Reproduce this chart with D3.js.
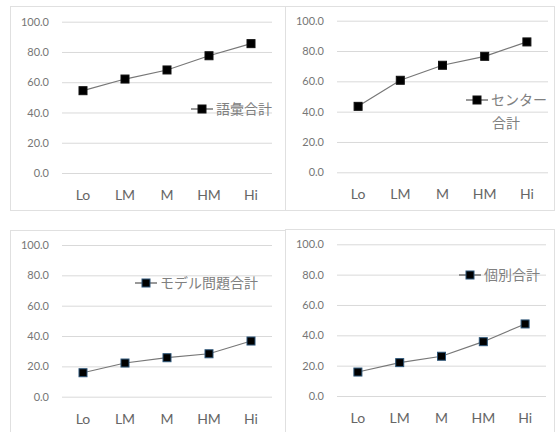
<!DOCTYPE html>
<html>
<head>
<meta charset="utf-8">
<script src="https://cdn.jsdelivr.net/npm/d3@7"></script>
<style>
  html, body { margin: 0; padding: 0; background: #fff; }
  svg { display: block; }
  text { font-family: Lato, "Noto Sans CJK JP", sans-serif; }
</style>
</head>
<body>
<svg id="chart" width="555" height="432"></svg>
<script>
// Score levels on the horizontal axis
const levels = ["Lo", "LM", "M", "HM", "Hi"];
// Y axis ticks
const yTicks = [0, 20, 40, 60, 80, 100];

// Average totals per level
const vocabTotal = [54.4, 62.1, 68.1, 77.5, 85.5];
const centerTotal = [43.5, 60.7, 70.6, 76.5, 86.0];
const modelTotal = [15.8, 22.2, 25.7, 28.3, 36.7];
const individualTotal = [15.8, 22.0, 26.2, 35.8, 47.5];

// Series names (legend labels; an array entry is one line)
const vocabName = ["語彙合計"];
const centerName = ["センター", "合計"];
const modelName = ["モデル問題合計"];
const individualName = ["個別合計"];

const svg = d3.select("#chart");

// Panel frames: outer border, plot area, legend anchor
const panels = [
  { values: vocabTotal, name: vocabName, frame: [10, 6, 285, 210],
    plot: [62, 21.7, 272, 173], legend: [202, 109], stroke: "#111" },
  { values: centerTotal, name: centerName, frame: [285, 6, 554, 210],
    plot: [337, 20.7, 548, 172.3], legend: [477, 100], stroke: "#111" },
  { values: modelTotal, name: modelName, frame: [10, 230, 285, 433],
    plot: [62, 245, 272, 396.7], legend: [146, 283], stroke: "#2c5578" },
  { values: individualTotal, name: individualName, frame: [285, 229, 554, 433],
    plot: [337, 244.3, 546, 396], legend: [470, 275], stroke: "#2c5578" }
];

panels.forEach(p => {
  const [fx0, fy0, fx1, fy1] = p.frame;
  const [px0, py0, px1, py1] = p.plot;

  svg.append("rect")
    .attr("x", fx0 + 0.5).attr("y", fy0 + 0.5)
    .attr("width", fx1 - fx0).attr("height", fy1 - fy0)
    .attr("fill", "#fff").attr("stroke", "#e0e0e0").attr("stroke-width", 1);

  const x = d3.scaleBand().domain(levels).range([px0, px1]).padding(0);
  const y = d3.scaleLinear().domain([0, 100]).range([py1, py0]);

  // Value axis with gridlines
  const gy = svg.append("g")
    .attr("transform", `translate(${px0},0)`)
    .call(d3.axisLeft(y).tickValues(yTicks).tickFormat(d3.format(".1f"))
      .tickSize(-(px1 - px0)).tickPadding(13));
  gy.select(".domain").remove();
  gy.selectAll(".tick line").attr("stroke", "#d9d9d9").attr("stroke-width", 1);
  gy.selectAll(".tick text").attr("fill", "#767676").attr("font-size", 11);

  // Category axis
  const gx = svg.append("g")
    .attr("transform", `translate(0,${py1})`)
    .call(d3.axisBottom(x).tickSize(0).tickPadding(17));
  gx.select(".domain").remove();
  gx.selectAll(".tick text").attr("fill", "#666").attr("font-size", 14);

  // Series line
  const line = d3.line()
    .x((d, i) => x(levels[i]) + x.bandwidth() / 2)
    .y(d => y(d));
  svg.append("path")
    .datum(p.values)
    .attr("d", line)
    .attr("fill", "none")
    .attr("stroke", "#777")
    .attr("stroke-width", 1.2);

  // Markers
  const ms = 8;
  svg.append("g").selectAll("rect")
    .data(p.values)
    .join("rect")
    .attr("x", (d, i) => x(levels[i]) + x.bandwidth() / 2 - ms / 2)
    .attr("y", d => y(d) - ms / 2)
    .attr("width", ms).attr("height", ms)
    .attr("fill", "#000")
    .attr("stroke", p.stroke).attr("stroke-width", 1);

  // Legend
  const [lx, ly] = p.legend;
  const lg = svg.append("g");
  lg.append("line")
    .attr("x1", lx - 11).attr("x2", lx + 11)
    .attr("y1", ly).attr("y2", ly)
    .attr("stroke", "#555").attr("stroke-width", 1.2);
  lg.append("rect")
    .attr("x", lx - ms / 2).attr("y", ly - ms / 2)
    .attr("width", ms).attr("height", ms)
    .attr("fill", "#000").attr("stroke", p.stroke).attr("stroke-width", 1);
  p.name.forEach((t, i) => {
    lg.append("text")
      .attr("x", lx + 14 + (i > 0 ? 1 : 0))
      .attr("y", ly + i * 23)
      .attr("dy", "0.35em")
      .attr("fill", "#808080")
      .attr("font-size", 14)
      .text(t);
  });
});
</script>
</body>
</html>
